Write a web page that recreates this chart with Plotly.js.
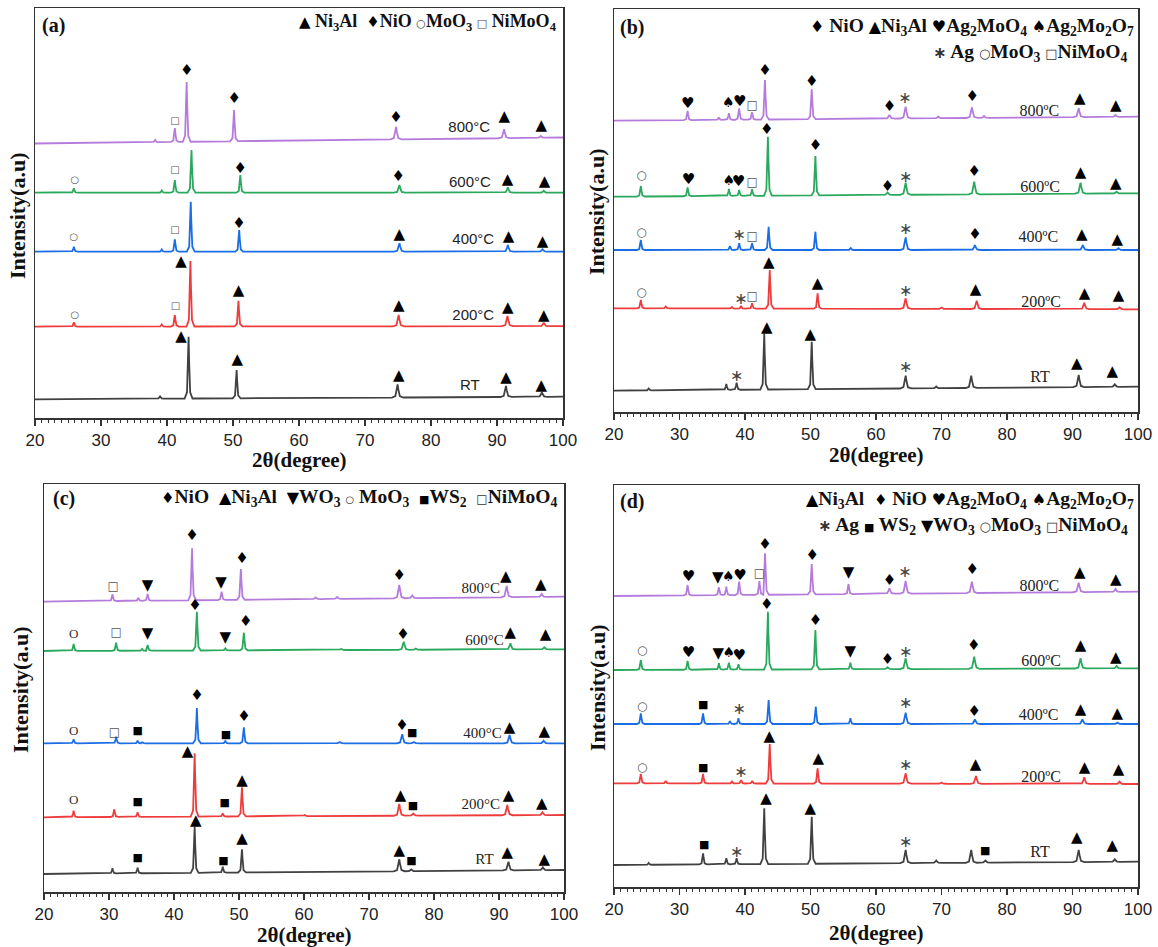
<!DOCTYPE html>
<html>
<head>
<meta charset="utf-8">
<script src="https://cdn.plot.ly/plotly-3.0.1.min.js"></script>
<style>html,body{margin:0;padding:0;background:#fff;}#chart{width:1158px;height:947px;}</style>
</head>
<body>
<div id="chart"></div>
<script>
// ---------------- DATA (2θ in degrees, stacked intensity in a.u.) ----------------
const temps = ['RT', '200', '400', '600', '800'];

// Panel (a)
const A_RT_base = [18.7, 21.3];
const A_RT_x = [38.95, 43.27, 50.55, 74.94, 91.36, 96.8];
const A_RT_y = [22, 81.3, 48, 33.7, 32, 25.7];
const A_200_base = [91.3, 91.9];
const A_200_x = [25.89, 39.2, 41.19, 43.55, 50.83, 75.1, 91.59, 97.08];
const A_200_y = [95.7, 93.5, 103, 157, 117.3, 103, 102, 95.3];
const A_400_base = [166.3, 166.3];
const A_400_x = [25.89, 39.2, 41.19, 43.6, 50.94, 75.22, 91.64, 96.9];
const A_400_y = [171.3, 168.5, 178.7, 216.3, 188, 174.7, 173, 168.7];
const A_600_base = [225.3, 225.3];
const A_600_x = [25.89, 39.2, 41.19, 43.71, 51.11, 75.22, 91.64, 97.08];
const A_600_y = [229.7, 227.5, 238, 268, 243, 233, 230.7, 227.3];
const A_800_base = [274.5, 280.5];
const A_800_x = [38.2, 41.19, 42.98, 50.16, 74.71, 91.08, 96.63];
const A_800_y = [278, 290, 336, 308, 291, 288.7, 282];
const A_mk_sym = ['□','♦','♦','♦','▲','▲', '○','□','♦','♦','▲','▲', '○','□','♦','▲','▲','▲', '○','□','▲','▲','▲','▲','▲', '▲','▲','▲','▲','▲'];
const A_mk_x = [41.2,43.0,50.2,74.7,91.1,96.7, 26.05,41.2,51.1,75.05,91.6,97.2, 25.9,41.2,50.9,75.2,91.75,96.9, 26.05,41.3,42.14,50.83,75.1,91.64,97.08, 42.14,50.66,75.1,91.36,96.7];
const A_mk_y = [297,347,318.7,299.7,300.7,292, 238,247.3,248.7,240.7,238,235.3, 180.7,187.3,194,183,180.7,175.3, 103,111.3,155.7,126.3,112,109.7,101.3, 80.7,57.3,41.3,39.7,31.3];
const A_lab_text = ['800°C','600°C','400°C','200°C','RT'];
const A_lab_x = [85.8, 85.9, 86.4, 86.4, 85.9];
const A_lab_y = [289.7, 234.7, 177.3, 102, 32];

// Panel (b)
const B_RT_base = [21.3, 25.3];
const B_RT_x = [25.3, 37.15, 38.72, 42.94, 50.19, 64.53, 69.2, 74.54, 90.95, 96.46];
const B_RT_y = [23.5, 28, 29.3, 78, 70.3, 36.3, 25.5, 36.3, 37, 27.7];
const B_200_base = [103.7, 102.7];
const B_200_x = [24.1, 27.9, 38.0, 39.4, 41.08, 43.78, 51.09, 64.53, 70.0, 75.38, 91.79, 97.19];
const B_200_y = [112, 105.5, 105, 106, 108.7, 142, 118.7, 113.7, 104.5, 111.3, 109.3, 104.7];
const B_400_base = [162, 162];
const B_400_x = [24.1, 37.7, 39.11, 41.08, 43.61, 50.75, 56.15, 64.53, 75.1, 91.57, 97.02];
const B_400_y = [172, 166, 168.7, 168.7, 185.3, 180.3, 164, 174.7, 167, 167, 163.7];
const B_600_base = [215.3, 218.7];
const B_600_x = [24.1, 31.24, 37.54, 39.11, 41.08, 43.5, 50.75, 61.77, 64.53, 75.0, 91.23, 96.73];
const B_600_y = [226, 224.7, 223, 222, 222.7, 275.3, 256, 219.5, 229.3, 230.3, 229.3, 220.3];
const B_800_base = [291.3, 295.3];
const B_800_x = [31.24, 36.0, 37.54, 39.11, 41.08, 43.05, 50.19, 62.05, 64.53, 69.5, 74.65, 76.5, 90.95, 96.57];
const B_800_y = [301, 294.5, 298.7, 303.7, 299.7, 332, 322.7, 297, 305.3, 295.5, 304.7, 296, 303.7, 297];
const B_mk_sym = ['♥','♠','♥','□','♦','♦','♦','∗','♦','▲','▲',
  '○','♥','♠','♥','□','♦','♦','♦','∗','♦','▲','▲',
  '○','∗','□','∗','♦','▲','▲',
  '○','∗','□','▲','▲','∗','▲','▲','▲',
  '∗','▲','▲','∗','▲','▲'];
const B_mk_x = [31.24,37.43,39.2,41.08,43.05,50.19,62.05,64.42,74.7,91.11,96.62,
  24.2,31.36,37.54,39.0,41.08,43.33,50.75,61.77,64.53,75.0,91.23,96.62,
  24.2,39.11,41.08,64.53,75.1,91.4,96.85,
  24.2,39.4,41.08,43.61,51.09,64.53,75.21,91.84,97.02,
  38.72,43.33,49.96,64.53,90.67,96.07];
const B_mk_y = [308,308.7,309.3,306,340.3,329.3,304.3,313,314.3,312.7,305.3,
  236.3,232,230.3,229.3,229.3,282,265.3,224.7,233.7,239.3,238.7,228,
  178.7,176,175.3,182,177,177,172,
  119.3,112,115.3,148.7,128,120.3,122,118,115.3,
  34.7,83.7,77,43.7,48,39.3];
const B_lab_text = ['800ºC','600ºC','400ºC','200ºC','RT'];
const B_lab_x = [84.93, 85.05, 84.8, 85.2, 85.05];
const B_lab_y = [299.7, 223.7, 173.7, 109.3, 33.7];

// Panel (c)
const C_RT_base = [18, 22];
const C_RT_x = [30.53, 34.4, 43.18, 47.5, 50.46, 74.66, 76.5, 91.46, 96.75];
const C_RT_y = [23.7, 24.3, 65.3, 25.3, 42.7, 32.7, 22.5, 30.3, 24.7];
const C_200_base = [74.7, 77];
const C_200_x = [24.56, 30.82, 34.4, 43.18, 47.5, 50.46, 60.1, 74.66, 76.82, 91.29, 96.69];
const C_200_y = [81.3, 82.7, 79.7, 138.7, 78.7, 104.7, 77, 88, 78.5, 87, 79.7];
const C_400_base = [148.7, 148.7];
const C_400_x = [24.56, 31.1, 34.4, 35.1, 43.52, 47.9, 50.75, 65.5, 75.12, 76.9, 91.63, 96.87];
const C_400_y = [152.7, 155.3, 151.3, 150, 184, 151.3, 164.7, 150, 157.7, 150, 157, 151.3];
const C_600_base = [241, 242.7];
const C_600_x = [24.56, 31.1, 35.1, 35.94, 43.52, 47.9, 50.75, 65.7, 75.35, 77.2, 91.75, 96.98];
const C_600_y = [248, 249.3, 243, 247, 280.3, 243.7, 259.3, 243, 250.3, 243.5, 248.7, 244.7];
const C_800_base = [290.3, 295.3];
const C_800_x = [30.53, 34.5, 35.94, 42.78, 47.33, 50.29, 61.8, 65.1, 74.66, 76.65, 91.18, 96.58];
const C_800_y = [297.7, 294, 298, 343.7, 300.3, 323, 294.5, 295, 307, 296.5, 306, 298];
const C_mk_sym = ['□','▼','♦','▼','♦','♦','▲','▲',
  'O','□','▼','♦','▼','♦','♦','▲','▲',
  'O','□','■','♦','■','♦','♦','■','▲','▲',
  'O','■','▲','■','▲','▲','■','▲','▲',
  '■','▲','■','▲','▲','■','▲','▲'];
const C_mk_x = [30.65,35.94,42.78,47.22,50.46,74.66,91.06,96.41,
  24.56,31.1,35.94,43.23,47.9,51.03,75.23,91.75,97.15,
  24.56,30.82,34.4,43.52,48.0,50.75,75.06,76.65,91.63,96.98,
  24.56,34.4,42.09,47.79,50.46,74.83,76.77,91.46,96.58,
  34.4,43.35,47.6,50.46,74.66,76.54,91.29,96.98];
const C_mk_y = [305.3,305.3,355.3,308.7,332.7,316,314.7,307,
  257,258.7,258,285.3,253.7,269.3,257,258.7,257,
  160.3,158.7,160.3,195.3,157,174.7,166,158.7,163.7,159.3,
  91.3,89.3,139.3,88.7,111,96,86,95.3,87.7,
  33.7,70.3,30.3,52.7,40.3,30.3,38.7,32];
const C_lab_text = ['800°C','600°C','400°C','200°C','RT'];
const C_lab_x = [87.2, 87.76, 87.47, 87.2, 87.76];
const C_lab_y = [302.7, 250.3, 158, 87, 32];

// Panel (d)
const D_RT_base = [22, 25.3];
const D_RT_x = [25.3, 33.6, 37.15, 38.72, 42.94, 50.19, 64.53, 69.2, 74.54, 76.7, 90.95, 96.46];
const D_RT_y = [24, 33.7, 28.7, 28.7, 78.7, 70.3, 37, 26.5, 37, 26.5, 37, 27.7];
const D_200_base = [103.7, 103];
const D_200_x = [24.1, 27.9, 33.6, 38.0, 39.4, 41.1, 43.78, 51.09, 64.53, 70.0, 75.27, 91.79, 97.19];
const D_200_y = [113, 106, 113, 105.5, 107, 106, 143, 118.7, 113.7, 104.5, 111, 109.7, 105.3];
const D_400_base = [163, 163];
const D_400_x = [24.1, 33.6, 37.7, 39.0, 43.61, 50.81, 56.09, 64.53, 75.1, 91.51, 96.85];
const D_400_y = [173.7, 173.7, 166, 168.7, 187, 180.3, 168.7, 174.3, 167.7, 167.7, 164.3];
const D_600_base = [217, 218.7];
const D_600_x = [24.1, 31.24, 36.02, 37.54, 39.0, 43.5, 50.75, 56.09, 61.77, 64.53, 75.0, 91.23, 96.73];
const D_600_y = [227, 226, 223.7, 224.3, 222.7, 275.3, 257, 224.3, 219.8, 228.7, 230.3, 228.7, 221];
const D_800_base = [291, 295.3];
const D_800_x = [31.24, 36.02, 37.15, 39.11, 42.2, 43.05, 50.19, 55.81, 62.05, 64.53, 74.65, 90.95, 96.57];
const D_800_y = [302, 299.7, 300.3, 305.3, 306, 333.7, 323, 303, 298.7, 306, 305.3, 304.3, 298];
const D_mk_sym = ['♥','▼','♠','♥','□','♦','♦','▼','♦','∗','♦','▲','▲',
  '○','♥','▼','♠','♥','♦','♦','▼','♦','∗','♦','▲','▲',
  '○','■','∗','∗','♦','▲','▲',
  '○','■','∗','▲','▲','∗','▲','▲','▲',
  '■','∗','▲','▲','∗','■','▲','▲'];
const D_mk_x = [31.36,35.85,37.43,39.23,42.21,43.05,50.25,55.81,62.05,64.41,74.7,91.11,96.62,
  24.33,31.36,35.91,37.54,39.11,43.33,50.75,56.09,61.77,64.53,74.93,91.23,96.62,
  24.33,33.6,39.11,64.53,75.0,91.23,96.85,
  24.33,33.6,39.4,43.72,51.2,64.53,75.21,91.84,97.02,
  33.77,38.72,43.22,49.96,64.53,76.67,90.67,96.07];
const D_mk_y = [309.7,308.7,309.7,311,313,342,330.3,313.7,305.3,314.3,316.3,313.7,307,
  236.3,233.7,232.7,233.7,231,282,266,234.3,226.3,233.7,240.3,240.3,228.7,
  179.7,182,177,183,174.3,177,173,
  118.7,118.7,113.7,149.7,127.7,121,122,118.7,116.3,
  41.3,34.3,87.7,77.7,43.7,35.3,48.7,40.3];
const D_lab_text = ['800ºC','600ºC','400ºC','200ºC','RT'];
const D_lab_x = [84.93, 85.2, 84.82, 85.2, 85.05];
const D_lab_y = [300.3, 224.7, 171, 108.7, 33.7];

// ---------------- STYLE ----------------
const W = 1158, H = 947;
const lineColors = {RT: '#414141', '200': '#ee3b3b', '400': '#1a6de4', '600': '#2aa85c', '800': '#b57bdc'};
const SERIF = 'Liberation Serif, Times New Roman, serif';
const SANS = 'Liberation Sans, Arial, sans-serif';
const SYMF = 'DejaVu Sans, sans-serif';

function curve(px, py, base) {
  const bl = x => base[0] + (base[1] - base[0]) * (x - 20) / 80;
  const xs = [20], ys = [base[0]];
  let last = 20;
  for (let i = 0; i < px.length; i++) {
    const p = px[i], t = py[i];
    const w = p < 60 ? 0.6 : 0.85;
    const b = bl(p), h = t - b;
    const l = Math.max(p - w, last + 0.02);
    xs.push(l, p - 0.4 * w, p - 0.13 * w, p, p + 0.13 * w, p + 0.4 * w, p + w);
    ys.push(bl(l), b + 0.1 * h, b + 0.62 * h, t, b + 0.62 * h, b + 0.1 * h, bl(p + w));
    last = p + w;
  }
  xs.push(100); ys.push(base[1]);
  return {xs, ys};
}

function symStyle(s, panel) {
  const small = panel === 'a';
  switch (s) {
    case '▲': return [15, '#000', SYMF];
    case '▼': return [15, '#000', SYMF];
    case '♦': return [15, '#000', SYMF];
    case '♥': return [15, '#000', SYMF];
    case '♠': return [14, '#000', SYMF];
    case '■': return [11, '#000', SYMF];
    case '○': return [small ? 10 : 12, '#555', SYMF];
    case '□': return [small ? 10 : 12, '#555', SYMF];
    case '∗': return [16, '#444', SYMF];
    case 'O': return [13, '#333', SERIF];
  }
  return [12, '#000', SYMF];
}

const panels = [
  {id: 'a', ax: '', curves: [[A_RT_x, A_RT_y, A_RT_base], [A_200_x, A_200_y, A_200_base], [A_400_x, A_400_y, A_400_base], [A_600_x, A_600_y, A_600_base], [A_800_x, A_800_y, A_800_base]],
   mk: [A_mk_sym, A_mk_x, A_mk_y], lab: [A_lab_text, A_lab_x, A_lab_y], labFont: [SANS, 15, '#222'],
   xdom: [35, 563], ytop: 8, ybot: 418},
  {id: 'b', ax: '2', curves: [[B_RT_x, B_RT_y, B_RT_base], [B_200_x, B_200_y, B_200_base], [B_400_x, B_400_y, B_400_base], [B_600_x, B_600_y, B_600_base], [B_800_x, B_800_y, B_800_base]],
   mk: [B_mk_sym, B_mk_x, B_mk_y], lab: [B_lab_text, B_lab_x, B_lab_y], labFont: [SERIF, 16, '#222'],
   xdom: [614, 1138], ytop: 9, ybot: 412},
  {id: 'c', ax: '3', curves: [[C_RT_x, C_RT_y, C_RT_base], [C_200_x, C_200_y, C_200_base], [C_400_x, C_400_y, C_400_base], [C_600_x, C_600_y, C_600_base], [C_800_x, C_800_y, C_800_base]],
   mk: [C_mk_sym, C_mk_x, C_mk_y], lab: [C_lab_text, C_lab_x, C_lab_y], labFont: [SERIF, 15, '#222'],
   xdom: [44, 564], ytop: 484, ybot: 892},
  {id: 'd', ax: '4', curves: [[D_RT_x, D_RT_y, D_RT_base], [D_200_x, D_200_y, D_200_base], [D_400_x, D_400_y, D_400_base], [D_600_x, D_600_y, D_600_base], [D_800_x, D_800_y, D_800_base]],
   mk: [D_mk_sym, D_mk_x, D_mk_y], lab: [D_lab_text, D_lab_x, D_lab_y], labFont: [SERIF, 16, '#222'],
   xdom: [614, 1138], ytop: 485, ybot: 887}
];

const traces = [];
const layout = {
  width: W, height: H, margin: {l: 0, r: 0, t: 0, b: 0},
  paper_bgcolor: '#fff', plot_bgcolor: '#fff', showlegend: false, annotations: []
};

panels.forEach(P => {
  const xa = 'x' + P.ax, ya = 'y' + P.ax;
  P.curves.forEach((c, i) => {
    const cv = curve(c[0], c[1], c[2]);
    traces.push({type: 'scatter', mode: 'lines', x: cv.xs, y: cv.ys, xaxis: xa, yaxis: ya,
      line: {color: lineColors[temps[i]], width: 1.8}, hoverinfo: 'skip'});
  });
  // one text trace per phase symbol so each has a single font
  const symbols = [...new Set(P.mk[0])];
  symbols.forEach(s => {
    const idx = P.mk[0].map((v, i) => v === s ? i : -1).filter(i => i >= 0);
    const st = symStyle(s, P.id);
    traces.push({type: 'scatter', mode: 'text', x: idx.map(i => P.mk[1][i]), y: idx.map(i => P.mk[2][i]),
      text: idx.map(() => s), xaxis: xa, yaxis: ya, textposition: 'middle center', cliponaxis: false,
      hoverinfo: 'skip', textfont: {size: st[0], color: st[1], family: st[2]}});
  });
  traces.push({type: 'scatter', mode: 'text', x: P.lab[1], y: P.lab[2], text: P.lab[0], xaxis: xa, yaxis: ya,
    textposition: 'middle center', cliponaxis: false, hoverinfo: 'skip',
    textfont: {family: P.labFont[0], size: P.labFont[1], color: P.labFont[2]}});
  const hgt = P.ybot - P.ytop;
  layout['xaxis' + P.ax] = {
    domain: [P.xdom[0] / W, P.xdom[1] / W], anchor: ya, range: [20, 100],
    tickmode: 'linear', tick0: 20, dtick: 10, ticks: 'outside', ticklen: 6, tickwidth: 1.2, tickcolor: '#333',
    showline: true, mirror: true, linecolor: '#333', linewidth: 1.5, showgrid: false, zeroline: false,
    tickfont: {family: SANS, size: 17, color: '#222'},
    minor: {dtick: 1, ticks: 'outside', ticklen: 3, tickcolor: '#333', tickwidth: 1, showgrid: false}
  };
  layout['yaxis' + P.ax] = {
    domain: [(H - P.ybot) / H, (H - P.ytop) / H], anchor: xa, range: [0, hgt],
    showline: true, mirror: true, linecolor: '#333', linewidth: 1.5, ticks: '', showticklabels: false,
    showgrid: false, zeroline: false
  };
});

function ann(text, xpx, ypx, opts) {
  layout.annotations.push(Object.assign({text, x: xpx / W, y: 1 - ypx / H, xref: 'paper', yref: 'paper',
    showarrow: false, xanchor: 'center', yanchor: 'middle'}, opts));
}
const yTitleFont = {family: SERIF, size: 22, color: '#111'};
const xTitleFont = {family: SERIF, size: 21, color: '#111'};
const yTitle = '<b>Intensity(a.u)</b>';
const xTitle = '<b>2θ(degree)</b>';
ann(yTitle, 17, 216, {textangle: -90, font: yTitleFont});
ann(yTitle, 597, 212, {textangle: -90, font: yTitleFont});
ann(yTitle, 20, 690, {textangle: -90, font: yTitleFont});
ann(yTitle, 597, 688, {textangle: -90, font: yTitleFont});
ann(xTitle, 299, 460, {font: xTitleFont});
ann(xTitle, 876, 455, {font: xTitleFont});
ann(xTitle, 304, 935, {font: xTitleFont});
ann(xTitle, 876, 933, {font: xTitleFont});

const panelFont = {family: SERIF, size: 20, color: '#111'};
ann('<b>(a)</b>', 53, 25, {font: panelFont});
ann('<b>(b)</b>', 632, 27, {font: panelFont});
ann('<b>(c)</b>', 64, 498, {font: panelFont});
ann('<b>(d)</b>', 632, 501, {font: panelFont});

const legFontA = {family: SERIF, size: 18, color: '#111'};
const legFont = {family: SERIF, size: 19.5, color: '#111'};
const sy = (c, sz, col) => `<span style="font-family:DejaVu Sans;font-size:${sz}px;color:${col || '#000'}">${c}</span>`;
ann('<b>' + sy('▲', 15) + ' Ni<sub>3</sub>Al  ' + sy('♦', 15) + 'NiO ' + sy('○', 11, '#444') + 'MoO<sub>3</sub> ' + sy('□', 11, '#444') + ' NiMoO<sub>4</sub></b>',
  559, 23, {xanchor: 'right', font: legFontA});
ann('<b>' + sy('♦', 16) + ' NiO ' + sy('▲', 16) + 'Ni<sub>3</sub>Al ' + sy('♥', 16) + 'Ag<sub>2</sub>MoO<sub>4</sub> ' + sy('♠', 16) + 'Ag<sub>2</sub>Mo<sub>2</sub>O<sub>7</sub></b>',
  1136, 27, {xanchor: 'right', font: legFont});
ann('<b>' + sy('∗', 16, '#333') + ' Ag ' + sy('○', 13, '#333') + 'MoO<sub>3</sub> ' + sy('□', 13, '#333') + 'NiMoO<sub>4</sub></b>',
  1129, 53, {xanchor: 'right', font: legFont});
ann('<b>' + sy('♦', 15) + 'NiO  ' + sy('▲', 16) + 'Ni<sub>3</sub>Al  ' + sy('▼', 16) + 'WO<sub>3</sub> ' + sy('○', 10, '#333') + ' MoO<sub>3</sub>  ' + sy('■', 11) + 'WS<sub>2</sub>  ' + sy('□', 12, '#333') + 'NiMoO<sub>4</sub></b>',
  559, 498, {xanchor: 'right', font: legFont});
ann('<b>' + sy('▲', 16) + 'Ni<sub>3</sub>Al  ' + sy('♦', 15) + ' NiO ' + sy('♥', 16) + 'Ag<sub>2</sub>MoO<sub>4</sub> ' + sy('♠', 16) + 'Ag<sub>2</sub>Mo<sub>2</sub>O<sub>7</sub></b>',
  1136, 500, {xanchor: 'right', font: legFont});
ann('<b>' + sy('∗', 16, '#333') + ' Ag ' + sy('■', 11) + ' WS<sub>2</sub> ' + sy('▼', 16) + 'WO<sub>3</sub> ' + sy('○', 13, '#333') + 'MoO<sub>3</sub> ' + sy('□', 13, '#333') + 'NiMoO<sub>4</sub></b>',
  1130, 526, {xanchor: 'right', font: legFont});

Plotly.newPlot('chart', traces, layout, {staticPlot: true, displayModeBar: false});
</script>
</body>
</html>
